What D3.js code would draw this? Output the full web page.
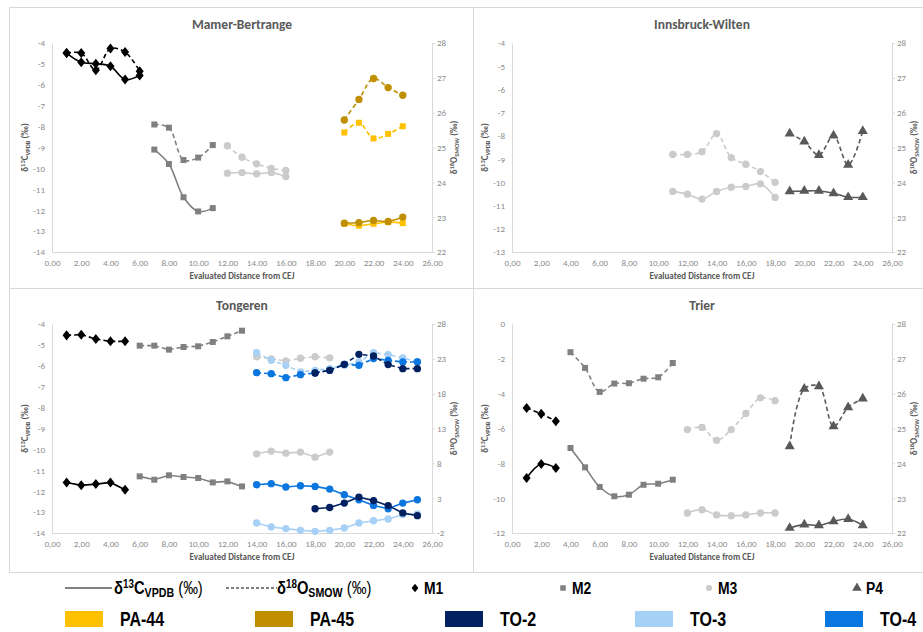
<!DOCTYPE html>
<html>
<head>
<meta charset="utf-8">
<script src="https://cdn.jsdelivr.net/npm/d3@7/dist/d3.min.js"></script>
<style>
  body { margin: 0; background: #fff; }
  svg text { font-family: Carlito, Calibri, Lato, sans-serif; }
  .leg text { font-family: "Liberation Sans", Arial, sans-serif; font-weight: bold; fill: #000; }
</style>
</head>
<body>
<div id="chart"></div>
<script>
// ---- Mamer-Bertrange ----
var mbM1Dist = [1, 2, 3, 4, 5, 6];
var mbM1C = [-4.48, -4.92, -4.99, -5.11, -5.75, -5.55];
var mbM1O = [27.71, 27.71, 27.22, 27.84, 27.74, 27.19];
var mbM2Dist = [7, 8, 9, 10, 11];
var mbM2C = [-9.10, -9.79, -11.38, -12.06, -11.90];
var mbM2O = [25.66, 25.57, 24.64, 24.71, 25.07];
var mbM3Dist = [12, 13, 14, 15, 16];
var mbM3C = [-10.23, -10.20, -10.26, -10.20, -10.39];
var mbM3O = [25.05, 24.72, 24.53, 24.40, 24.34];
var pa44Dist = [20, 21, 22, 23, 24];
var pa44C = [-12.65, -12.74, -12.65, -12.57, -12.62];
var pa44O = [25.43, 25.71, 25.26, 25.39, 25.61];
var pa45Dist = [20, 21, 22, 23, 24];
var pa45C = [-12.62, -12.59, -12.49, -12.54, -12.33];
var pa45O = [25.79, 26.38, 26.98, 26.72, 26.50];

// ---- Innsbruck-Wilten ----
var ibM3Dist = [11, 12, 13, 14, 15, 16, 17, 18];
var ibM3C = [-10.39, -10.51, -10.72, -10.39, -10.21, -10.18, -10.07, -10.65];
var ibM3O = [24.80, 24.80, 24.88, 25.40, 24.71, 24.52, 24.31, 24.00];
var ibP4Dist = [19, 20, 21, 22, 23, 24];
var ibP4C = [-10.39, -10.37, -10.37, -10.47, -10.64, -10.64];
var ibP4O = [25.40, 25.17, 24.78, 25.34, 24.50, 25.47];

// ---- Tongeren ----
var toM1Dist = [1, 2, 3, 4, 5];
var toM1C = [-11.58, -11.72, -11.66, -11.58, -11.93];
var toM1O = [26.37, 26.47, 25.85, 25.51, 25.51];
var toM2Dist = [6, 7, 8, 9, 10, 11, 12, 13];
var toM2C = [-11.29, -11.45, -11.24, -11.32, -11.37, -11.58, -11.53, -11.77];
var toM2O = [24.89, 24.89, 24.32, 24.70, 24.80, 25.42, 26.23, 27.04];
var toM3Dist = [14, 15, 16, 17, 18, 19];
var toM3C = [-10.21, -10.08, -10.18, -10.13, -10.37, -10.13];
var toM3O = [23.30, 23.00, 22.70, 23.08, 23.30, 23.15];
var to2Dist = [18, 19, 20, 21, 22, 23, 24, 25];
var to2C = [-12.84, -12.78, -12.57, -12.28, -12.45, -12.69, -13.04, -13.17];
var to2O = [20.97, 21.35, 22.21, 23.65, 23.41, 22.17, 21.59, 21.59];
var to3Dist = [14, 15, 16, 17, 18, 19, 20, 21, 22, 23, 24, 25];
var to3C = [-13.52, -13.71, -13.79, -13.87, -13.92, -13.87, -13.76, -13.52, -13.41, -13.33, -13.12, -13.09];
var to3O = [23.88, 22.79, 22.07, 21.11, 21.35, 21.59, 22.07, 22.55, 23.88, 23.60, 23.12, 22.64];
var to4Dist = [14, 15, 16, 17, 18, 19, 20, 21, 22, 23, 24, 25];
var to4C = [-11.69, -11.64, -11.80, -11.74, -11.77, -11.90, -12.17, -12.41, -12.68, -12.84, -12.57, -12.41];
var to4O = [21.01, 20.87, 20.30, 20.73, 20.97, 21.35, 22.21, 22.07, 23.03, 22.79, 22.55, 22.55];

// ---- Trier ----
var trM1Dist = [1, 2, 3];
var trM1C = [-8.84, -8.04, -8.27];
var trM1O = [25.59, 25.42, 25.21];
var trM2Dist = [4, 5, 6, 7, 8, 9, 10, 11];
var trM2C = [-7.12, -8.23, -9.36, -9.89, -9.80, -9.23, -9.17, -8.94];
var trM2O = [27.19, 26.74, 26.05, 26.29, 26.30, 26.43, 26.47, 26.88];
var trM3Dist = [12, 13, 14, 15, 16, 17, 18];
var trM3C = [-10.85, -10.66, -10.96, -11.01, -10.96, -10.85, -10.85];
var trM3O = [24.97, 25.03, 24.66, 24.97, 25.43, 25.88, 25.80];
var trP4Dist = [19, 20, 21, 22, 23, 24];
var trP4C = [-11.71, -11.52, -11.56, -11.33, -11.20, -11.56];
var trP4O = [24.49, 26.14, 26.21, 25.06, 25.61, 25.86];

// axis ticks
var xTicks = [0, 2, 4, 6, 8, 10, 12, 14, 16, 18, 20, 22, 24, 26];
var cTicksA = [-4, -5, -6, -7, -8, -9, -10, -11, -12, -13, -14];
var cTicksB = [-4, -5, -6, -7, -8, -9, -10, -11, -12, -13];
var cTicksTrier = [0, -2, -4, -6, -8, -10, -12];
var oTicksA = [22, 23, 24, 25, 26, 27, 28];
var oTicksTongeren = [-2, 3, 8, 13, 18, 23, 28];

// legend
var toothNames = ["M1", "M2", "M3", "P4"];
var specimenNames = ["PA-44", "PA-45", "TO-2", "TO-3", "TO-4"];

// colours / symbols
var colTooth = { M1: "#000000", M2: "#808080", M3: "#cbcbcb", P4: "#595959" };
var colSpec = { "PA-44": "#ffc000", "PA-45": "#bf8f00", "TO-2": "#002060", "TO-3": "#a6d0f6", "TO-4": "#0a76e0" };

// excel-like diamond, a bit squarer than d3's
var excelDiamond = {
  draw: function(ctx, size) {
    var w = Math.sqrt(size) * 0.62, h = w * 1.25;
    ctx.moveTo(0, -h); ctx.lineTo(w, 0); ctx.lineTo(0, h); ctx.lineTo(-w, 0); ctx.closePath();
  }
};
var shapeOf = { M1: excelDiamond, M2: d3.symbolSquare, M3: d3.symbolCircle, P4: d3.symbolTriangle };
var sizeOf = { M1: 42, M2: 36, M3: 42, P4: 44 };

var panels = [
  { title: "Mamer-Bertrange", x0: 52, x1: 432, y0: 43, y1: 252, cDom: [-14, -4], cTicks: cTicksA,
    oDom: [22, 28], oTicks: oTicksA, comma: false, smooth: true,
    series: [
      { d: mbM1Dist, c: mbM1C, o: mbM1O, color: colTooth.M1, shape: "M1" },
      { d: mbM2Dist, c: mbM2C, o: mbM2O, color: colTooth.M2, shape: "M2" },
      { d: mbM3Dist, c: mbM3C, o: mbM3O, color: colTooth.M3, shape: "M3" },
      { d: pa44Dist, c: pa44C, o: pa44O, color: colSpec["PA-44"], shape: "M2" },
      { d: pa45Dist, c: pa45C, o: pa45O, color: colSpec["PA-45"], shape: "M3" }
    ] },
  { title: "Innsbruck-Wilten", x0: 512, x1: 892, y0: 43, y1: 252, cDom: [-13, -4], cTicks: cTicksB,
    oDom: [22, 28], oTicks: oTicksA, comma: true, smooth: true,
    series: [
      { d: ibM3Dist, c: ibM3C, o: ibM3O, color: colTooth.M3, shape: "M3" },
      { d: ibP4Dist, c: ibP4C, o: ibP4O, color: colTooth.P4, shape: "P4" }
    ] },
  { title: "Tongeren", x0: 52, x1: 432, y0: 324, y1: 533, cDom: [-14, -4], cTicks: cTicksA,
    oDom: [-2, 28], oTicks: oTicksTongeren, comma: true, smooth: false,
    series: [
      { d: toM1Dist, c: toM1C, o: toM1O, color: colTooth.M1, shape: "M1" },
      { d: toM2Dist, c: toM2C, o: toM2O, color: colTooth.M2, shape: "M2" },
      { d: toM3Dist, c: toM3C, o: toM3O, color: colTooth.M3, shape: "M3" },
      { d: to3Dist, c: to3C, o: to3O, color: colSpec["TO-3"], shape: "M3" },
      { d: to4Dist, c: to4C, o: to4O, color: colSpec["TO-4"], shape: "M3" },
      { d: to2Dist, c: to2C, o: to2O, color: colSpec["TO-2"], shape: "M3" }
    ] },
  { title: "Trier", x0: 512, x1: 892, y0: 324, y1: 533, cDom: [-12, 0], cTicks: cTicksTrier,
    oDom: [22, 28], oTicks: oTicksA, comma: true, smooth: true,
    series: [
      { d: trM1Dist, c: trM1C, o: trM1O, color: colTooth.M1, shape: "M1" },
      { d: trM2Dist, c: trM2C, o: trM2O, color: colTooth.M2, shape: "M2" },
      { d: trM3Dist, c: trM3C, o: trM3O, color: colTooth.M3, shape: "M3" },
      { d: trP4Dist, c: trP4C, o: trP4O, color: colTooth.P4, shape: "P4" }
    ] }
];

var svg = d3.select("#chart").append("svg")
  .attr("width", 923).attr("height", 632);

// panel frames
var frame = svg.append("g").attr("stroke", "#d9d9d9").attr("stroke-width", 1).attr("fill", "none");
frame.append("rect").attr("x", 9.5).attr("y", 7.5).attr("width", 930).attr("height", 565);
frame.append("line").attr("x1", 473.5).attr("x2", 473.5).attr("y1", 7.5).attr("y2", 572.5);
frame.append("line").attr("x1", 9.5).attr("x2", 923).attr("y1", 288.5).attr("y2", 288.5);

// add a rotated axis title with super/subscripts
function axisTitle(g, x, y, sup, sub) {
  var t = g.append("text")
    .attr("transform", "translate(" + x + "," + y + ") rotate(-90)")
    .attr("text-anchor", "middle")
    .attr("fill", "#595959")
    .attr("font-size", 9)
    .attr("font-weight", "bold");
  t.append("tspan").text("δ");
  t.append("tspan").attr("font-size", 6.5).attr("dy", -3.5).text(sup);
  t.append("tspan").attr("dy", 3.5).text(sup == "13" ? "C" : "O");
  t.append("tspan").attr("font-size", 6.5).attr("dy", 2).text(sub);
  t.append("tspan").attr("dy", -2).text(" (‰)");
}

panels.forEach(function(p) {
  var g = svg.append("g");
  var x = d3.scaleLinear().domain([0, 26]).range([p.x0, p.x1]);
  var yc = d3.scaleLinear().domain(p.cDom).range([p.y1, p.y0]);
  var yo = d3.scaleLinear().domain(p.oDom).range([p.y1, p.y0]);
  var fmt = p.comma ? function(d) { return d.toFixed(2).replace(".", ","); } : d3.format(".2f");

  // x axis
  var gx = g.append("g").attr("transform", "translate(0," + p.y1 + ")")
    .call(d3.axisBottom(x).tickValues(xTicks).tickFormat(fmt).tickSize(0).tickSizeOuter(0));
  gx.selectAll("text").attr("y", 11).attr("dy", "0.35em");

  // left axis
  var gl = g.append("g").attr("transform", "translate(" + p.x0 + ",0)")
    .call(d3.axisLeft(yc).tickValues(p.cTicks).tickFormat(function(d) { return String(d); }).tickSize(0).tickSizeOuter(0));
  gl.selectAll("text").attr("x", -7);

  // right axis
  var gr = g.append("g").attr("transform", "translate(" + p.x1 + ",0)")
    .call(d3.axisRight(yo).tickValues(p.oTicks).tickFormat(function(d) { return String(d); }).tickSize(3).tickSizeOuter(0));
  gr.selectAll("text").attr("x", 5);

  [gx, gl, gr].forEach(function(a) {
    a.select(".domain").attr("stroke", "#d9d9d9");
    a.selectAll(".tick line").attr("stroke", "#d9d9d9");
    a.selectAll("text").attr("fill", "#8c8c8c").attr("font-size", 9)
      .style("font-family", "Carlito, Calibri, Lato, sans-serif");
  });

  // titles
  g.append("text").attr("x", (p.x0 + p.x1) / 2).attr("y", p.y0 - 19)
    .attr("text-anchor", "middle").attr("dy", "0.35em")
    .attr("fill", "#595959").attr("font-size", 13.5).attr("font-weight", "bold")
    .text(p.title);
  g.append("text").attr("x", (p.x0 + p.x1) / 2).attr("y", p.y1 + 24)
    .attr("text-anchor", "middle").attr("dy", "0.35em")
    .attr("fill", "#595959").attr("font-size", 9).attr("font-weight", "bold")
    .text("Evaluated Distance from CEJ");
  axisTitle(g, p.x0 - 24, (p.y0 + p.y1) / 2, "13", "VPDB");
  axisTitle(g, p.x1 + 25, (p.y0 + p.y1) / 2, "18", "SMOW");

  var curve = p.smooth ? d3.curveCatmullRom.alpha(0.5) : d3.curveLinear;

  p.series.forEach(function(s) {
    var pts = s.d.map(function(d, i) { return { d: d, c: s.c[i], o: s.o[i] }; });
    var lineC = d3.line().x(function(q) { return x(q.d); }).y(function(q) { return yc(q.c); }).curve(curve);
    var lineO = d3.line().x(function(q) { return x(q.d); }).y(function(q) { return yo(q.o); }).curve(curve);

    g.append("path").attr("d", lineC(pts)).attr("fill", "none")
      .attr("stroke", s.color).attr("stroke-width", 1.6);
    g.append("path").attr("d", lineO(pts)).attr("fill", "none")
      .attr("stroke", s.color).attr("stroke-width", 1.6).attr("stroke-dasharray", "4.5,3");

    var sym = d3.symbol().type(shapeOf[s.shape]).size(sizeOf[s.shape]);
    g.selectAll(null).data(pts).enter().append("path")
      .attr("d", sym).attr("fill", s.color)
      .attr("transform", function(q) { return "translate(" + x(q.d) + "," + yc(q.c) + ")"; });
    g.selectAll(null).data(pts).enter().append("path")
      .attr("d", sym).attr("fill", s.color)
      .attr("transform", function(q) { return "translate(" + x(q.d) + "," + yo(q.o) + ")"; });
  });
});

// ---- legend ----
// narrow bold look: Liberation Sans squeezed horizontally
var leg = svg.append("g").attr("class", "leg");
var row1 = 588, row2 = 619;
var squeeze = 0.82;

function legText(x, y, size) {
  return leg.append("text")
    .attr("transform", "translate(" + x + "," + y + ") scale(" + squeeze + ",1)")
    .attr("font-size", size);
}

leg.append("line").attr("x1", 65).attr("x2", 112).attr("y1", row1).attr("y2", row1)
  .attr("stroke", "#000").attr("stroke-width", 1);
leg.append("line").attr("x1", 226).attr("x2", 277).attr("y1", row1).attr("y2", row1)
  .attr("stroke", "#000").attr("stroke-width", 1).attr("stroke-dasharray", "3,2");

function legIso(x, sup, sub) {
  var t = legText(x, row1 + 6, 18);
  t.append("tspan").text("δ");
  t.append("tspan").attr("font-size", 12).attr("dy", -6).text(sup);
  t.append("tspan").attr("dy", 6).text(sup == "13" ? "C" : "O");
  t.append("tspan").attr("font-size", 13).attr("dy", 3).text(sub);
  t.append("tspan").attr("dy", -3).attr("font-weight", "normal").text(" (‰)");
}
legIso(114, "13", "VPDB");
legIso(277, "18", "SMOW");

var toothX = [415, 563, 709, 857];
var legSize = { M1: 30, M2: 30, M3: 30, P4: 40 };
toothNames.forEach(function(n, i) {
  leg.append("path")
    .attr("d", d3.symbol().type(shapeOf[n]).size(legSize[n]))
    .attr("transform", "translate(" + toothX[i] + "," + row1 + ")")
    .attr("fill", colTooth[n]);
  legText(toothX[i] + 9, row1 + 6, 17).text(n);
});

specimenNames.forEach(function(n, i) {
  var sx = 65 + i * 190;
  leg.append("rect").attr("x", sx).attr("y", row2 - 8).attr("width", 38).attr("height", 16)
    .attr("fill", colSpec[n]);
  legText(sx + 55, row2 + 7, 19.5).text(n);
});
</script>
</body>
</html>
